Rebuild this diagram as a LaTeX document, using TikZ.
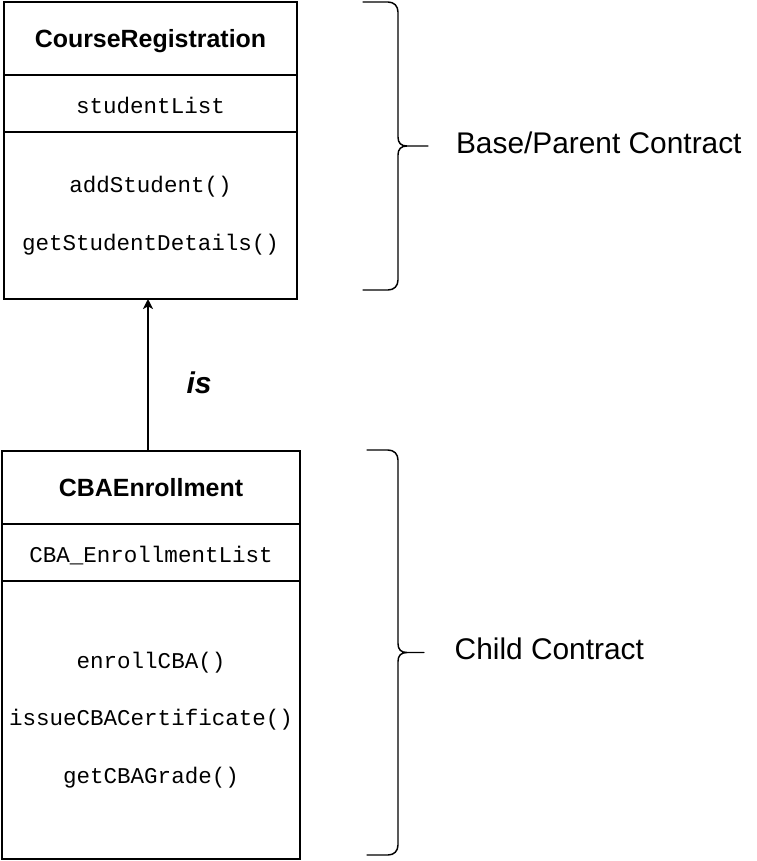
\documentclass[tikz,border=0pt]{standalone}
\usepackage{fontspec}
\setmainfont{Liberation Sans}
\setmonofont{Liberation Mono}
\usetikzlibrary{positioning,arrows.meta}

\begin{document}
\begin{tikzpicture}[
        x=0.75pt,
        y=-0.75pt,
        part/.style={
          draw,
          rectangle,
          line width=1.1pt,
          inner sep=0pt,
          outer sep=0pt,
          align=center
          },
        title/.style={
          part,
          minimum height=54.75pt,
          text depth=0pt,
          font=\bfseries\fontsize{18.7}{22}\selectfont
          },
        attr/.style={
          part,
          minimum height=42.75pt,
          text height=15pt,
          text depth=0pt,
          font=\ttfamily\fontsize{16.9}{20}\selectfont
          },
        ops/.style={
          part,
          font=\ttfamily\fontsize{16.9}{43.1}\selectfont
          },
        contract/.style={
          yshift=2.4pt,
          font=\fontsize{22.4}{27}\selectfont
          },
        brace/.style={
          line width=1.1pt,
          line cap=round
          },
        >={Stealth[length=7.5pt,width=7.5pt,inset=2pt]}
        ]
        \useasboundingbox (0,0) rectangle (757,861);
        % parent contract
        \node[title, minimum width=219.75pt, anchor=north west] (regTitle) at (4,2) {CourseRegistration};
        \node[attr, minimum width=219.75pt, below=0pt of regTitle] (regAttr) {studentList};
        \node[ops, minimum width=219.75pt, minimum height=125.25pt, below=0pt of regAttr] (regOps) {addStudent()\\getStudentDetails()};
        % child contract
        \node[title, minimum width=223.5pt, anchor=north west] (cbaTitle) at (2,451) {CBAEnrollment};
        \node[attr, minimum width=223.5pt, below=0pt of cbaTitle] (cbaAttr) {CBA\_EnrollmentList};
        \node[ops, minimum width=223.5pt, minimum height=208.5pt, below=0pt of cbaAttr] (cbaOps) {enrollCBA()\\issueCBACertificate()\\getCBAGrade()};
        \draw[->, line width=1.1pt] ([xshift=-2.25pt]cbaTitle.north) -- node[pos=0.45, right=25pt, font=\bfseries\itshape\fontsize{22.5}{27}\selectfont] (isLbl) {is} ([xshift=-2.25pt]cbaTitle.north |- regOps.south);
        % braces
        \foreach \ya/\yb/\xa/\xt/\nm in {2/290/363/428/baseTip, 450/855/367/424/childTip}
        {
          \pgfmathsetmacro\ym{(\ya+\yb)/2}
          \draw[brace] (\xa,\ya) -- (388,\ya) .. controls (394,\ya) and (398,{\ya+4}) .. (398,{\ya+10}) -- (398,{\ym-9})
            .. controls (398,{\ym-3}) and (401,\ym) .. (407,\ym) -- (\xt,\ym) coordinate (\nm)
            (407,\ym) .. controls (401,\ym) and (398,{\ym+3}) .. (398,{\ym+9}) -- (398,{\yb-10})
            .. controls (398,{\yb-4}) and (394,\yb) .. (388,\yb) -- (\xa,\yb);
        }
        \node[contract, right=17.5pt of baseTip] (baseLbl) {Base/Parent Contract};
        \node[contract, right=19.5pt of childTip] (childLbl) {Child Contract};
    \end{tikzpicture}
\end{document}
